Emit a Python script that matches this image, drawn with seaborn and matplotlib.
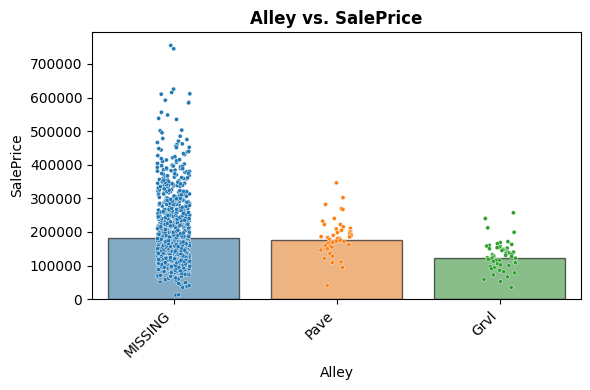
import pandas as pd
import matplotlib
matplotlib.use("Agg")
import matplotlib.pyplot as plt
import seaborn as sns

# categories and bar heights (mean SalePrice per Alley group)
categories = ["MISSING", "Pave", "Grvl"]
mean_price = [181000, 175000, 121000]

# individual sale prices (thousands)
missing_k = [
    755, 745, 625, 615, 611, 610, 592, 586, 584, 556, 548, 538, 535, 503, 501, 495, 485,
    478, 475, 470, 466, 462, 460, 455, 452, 451,
    427, 430, 433, 438, 440, 444, 448,
    402, 404, 407, 410, 412, 414, 415, 418, 421, 424,
    377, 379, 380, 382, 384, 385, 387, 389, 390, 392, 394, 395, 397, 399,
    352, 353, 355, 356, 358, 359, 360, 362, 363, 365, 366, 368, 370, 372, 373, 375,
    326, 327, 328, 330, 331, 332, 333, 335, 336, 337, 338, 340, 340, 341, 342, 344, 345, 345,
    346, 348, 349, 350,
    301, 302, 303, 305, 306, 307, 309, 310, 310, 311, 312, 313, 315, 315, 316, 317, 318, 319,
    320, 320, 321, 322, 323, 324, 325, 308,
    276, 277, 278, 279, 280, 280, 281, 282, 283, 284, 285, 285, 286, 287, 288, 289, 290, 290,
    291, 292, 293, 294, 295, 295, 296, 297, 298, 299, 300, 300, 282, 293,
    251, 252, 253, 254, 255, 255, 256, 257, 258, 259, 260, 260, 261, 262, 263, 264, 265, 265,
    266, 267, 268, 269, 270, 270, 271, 272, 273, 274, 275, 252, 256, 259, 262, 267, 271, 274,
    258, 264,
    226, 227, 228, 229, 230, 230, 231, 232, 233, 234, 235, 235, 236, 237, 238, 239, 240, 240,
    241, 242, 243, 244, 245, 245, 246, 247, 248, 249, 250, 250, 227, 229, 232, 234, 237, 239,
    242, 244, 247, 249, 228, 233, 238, 243, 248,
    201, 202, 203, 204, 205, 205, 206, 207, 208, 209, 210, 210, 210, 211, 212, 213, 214, 215,
    215, 216, 217, 218, 219, 220, 220, 220, 221, 222, 223, 224, 225, 225, 202, 204, 206, 208,
    211, 213, 214, 216, 218, 219, 222, 224, 201, 203, 207, 209, 212, 217, 221, 223, 205, 215, 219,
    176, 176, 177, 177, 178, 178, 179, 179, 180, 180, 180, 180, 181, 181, 182, 182, 183, 183,
    184, 184, 185, 185, 185, 185, 186, 186, 187, 187, 188, 188, 189, 189, 190, 190, 190, 191,
    192, 192, 193, 194, 195, 195, 195, 196, 197, 198, 199, 200, 200, 200, 177, 179, 181, 183,
    186, 188, 191, 193, 194, 196, 197, 198, 199, 178, 182, 187, 189, 192, 184, 176,
    151, 151, 152, 152, 153, 153, 154, 154, 155, 155, 155, 155, 156, 156, 157, 157, 158, 158,
    159, 159, 160, 160, 160, 160, 161, 161, 162, 162, 163, 163, 164, 164, 165, 165, 165, 165,
    166, 166, 167, 167, 168, 168, 169, 169, 170, 170, 170, 170, 171, 171, 172, 172, 173, 173,
    174, 174, 175, 175, 152, 154, 156, 158, 159, 161, 163, 164, 166, 168, 169, 171, 173, 174,
    153, 157, 162, 167, 172, 155, 160, 165, 170, 151, 158, 163, 168,
    126, 126, 127, 127, 128, 128, 128, 129, 129, 130, 130, 130, 130, 131, 131, 132, 132, 133,
    133, 134, 134, 135, 135, 135, 135, 136, 136, 137, 137, 138, 138, 139, 139, 140, 140, 140,
    140, 141, 141, 142, 142, 143, 143, 144, 144, 145, 145, 145, 145, 146, 146, 147, 147, 148,
    148, 149, 149, 150, 150, 150, 127, 129, 131, 133, 134, 136, 137, 138, 139, 141, 142, 143,
    144, 146, 147, 148, 149, 126, 128, 132, 135, 139, 140, 143, 145, 130, 134, 137, 141, 147,
    101, 101, 102, 102, 103, 103, 104, 104, 105, 105, 105, 106, 106, 107, 107, 108, 108, 109,
    109, 110, 110, 110, 111, 111, 112, 112, 113, 113, 114, 114, 115, 115, 115, 116, 116, 117,
    117, 118, 118, 119, 119, 120, 120, 120, 121, 121, 122, 122, 123, 123, 124, 124, 125, 125,
    102, 106, 109, 111, 114, 117, 119, 121, 123, 108, 112, 116, 118, 113, 110, 104,
    75, 76, 77, 78, 79, 80, 80, 81, 82, 83, 84, 85, 85, 86, 87, 87, 88, 89, 89, 90, 90, 91,
    91, 92, 93, 93, 94, 94, 95, 95, 96, 96, 97, 97, 98, 98, 99, 99, 100, 100,
    52, 55, 58, 60, 61, 62, 64, 66, 67, 68, 69, 70, 72, 73, 74,
    12, 13, 35, 38, 40, 44, 47, 49,
    # second pass over the dense band
    63, 68, 71, 76, 79, 82, 84, 86, 88, 91, 92, 93, 95, 97, 98,
    100, 102, 103, 105, 106, 107, 108, 109, 111, 112, 113, 114, 115, 116, 117, 118, 119, 120,
    122, 124,
    126, 127, 129, 130, 132, 133, 134, 135, 136, 137, 138, 139, 140, 142, 143, 144, 145, 146,
    148, 149,
    151, 152, 154, 155, 156, 157, 158, 160, 161, 162, 164, 165, 166, 167, 169, 170, 172, 173, 174,
    176, 178, 180, 181, 183, 185, 186, 188, 190, 191, 193, 195, 197, 199,
    202, 205, 207, 210, 212, 215, 218, 220, 223, 225, 228, 230, 233, 235, 238, 240, 243, 245, 248,
    252, 255, 258, 261, 264, 267, 270, 273, 276, 279, 282, 285, 288, 291, 294, 297,
    303, 306, 310, 313, 317, 320, 324, 328, 331, 335, 339, 343, 347,
    354, 361, 367, 374, 381, 388, 396,
]
pave_k = [
    346, 302, 282, 269, 267, 240, 232, 222, 222, 215, 209, 211, 205, 202, 200, 198, 195, 192,
    190, 188, 186, 185, 183, 181, 180, 178, 176, 175, 173, 172, 170, 168, 165, 162, 160, 158,
    155, 150, 146, 136, 128, 121, 111, 109, 94, 41,
]
grvl_k = [
    257, 240, 212, 199, 171, 168, 165, 163, 160, 158, 157, 155, 153, 152, 150, 148, 147, 145,
    143, 142, 140, 138, 137, 135, 133, 132, 130, 128, 127, 125, 123, 122, 120, 118, 116, 115,
    113, 110, 108, 105, 102, 100, 97, 94, 90, 86, 82, 78, 72, 66, 59, 52, 35,
]

def plot_alley():
    bars = pd.DataFrame({"Alley": categories, "SalePrice": mean_price})
    pts = pd.DataFrame({
        "Alley": ["MISSING"] * len(missing_k) + ["Pave"] * len(pave_k) + ["Grvl"] * len(grvl_k),
        "SalePrice": [v * 1000 for v in missing_k + pave_k + grvl_k],
    })

    fig, ax = plt.subplots(figsize=(5.9, 3.9), dpi=100)
    palette = sns.color_palette("tab10", 3)

    sns.barplot(data=bars, x="Alley", y="SalePrice", hue="Alley", order=categories,
                palette=palette, alpha=0.6, edgecolor="black", linewidth=1,
                legend=False, ax=ax)
    sns.stripplot(data=pts, x="Alley", y="SalePrice", hue="Alley", order=categories,
                  palette=palette, size=3, jitter=0.1, linewidth=0.3,
                  edgecolor="white", legend=False, ax=ax)

    ax.set_title("Alley vs. SalePrice", fontsize=12, fontweight="bold")
    ax.set_xlabel("Alley")
    ax.set_ylabel("SalePrice")
    ax.set_ylim(0, 795000)
    plt.setp(ax.get_xticklabels(), rotation=45, ha="right")

    fig.subplots_adjust(left=0.156, right=0.985, top=0.918, bottom=0.233)
    plt.savefig("out.png")

if __name__ == "__main__":
    plot_alley()
